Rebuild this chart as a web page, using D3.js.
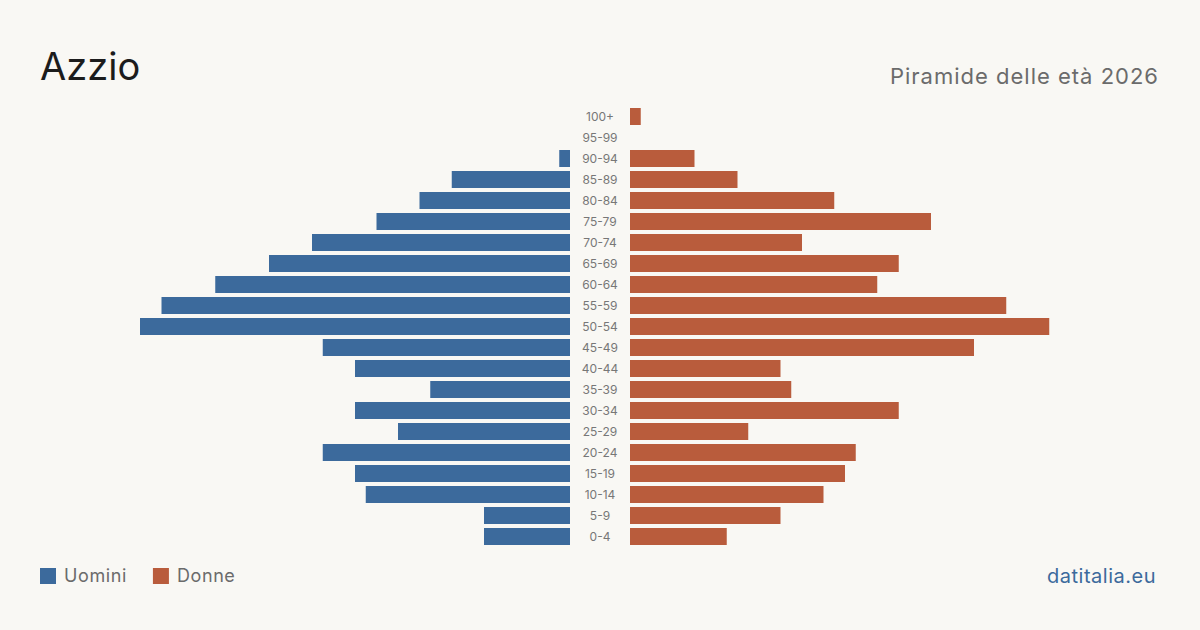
<!DOCTYPE html>
<html>
<head>
<meta charset="utf-8">
<script src="https://cdn.jsdelivr.net/npm/d3@7"></script>
<style>
  html, body { margin: 0; padding: 0; background: #f9f8f4; }
  svg { display: block; font-family: Inter, "Noto Sans", sans-serif; }
</style>
</head>
<body>
<svg id="chart" width="1200" height="630"></svg>
<script>
// Dati: piramide delle età
const ageGroups = ['100+', '95-99', '90-94', '85-89', '80-84', '75-79', '70-74', '65-69', '60-64', '55-59',
  '50-54', '45-49', '40-44', '35-39', '30-34', '25-29', '20-24', '15-19', '10-14', '5-9', '0-4'];
const men = [0, 0, 1, 11, 14, 18, 24, 28, 33, 38, 40, 23, 20, 13, 20, 16, 23, 20, 19, 8, 8];
const women = [1, 0, 6, 10, 19, 28, 16, 25, 23, 35, 39, 32, 14, 15, 25, 11, 21, 20, 18, 14, 9];

const legendItems = [
  { label: 'Uomini', color: '#3c6a9c' },
  { label: 'Donne', color: '#b95c3c' }
];

const svg = d3.select('#chart');

svg.append('rect').attr('width', 1200).attr('height', 630).attr('fill', '#f9f8f4');

// Titoli
svg.append('text')
  .attr('x', 40).attr('y', 80)
  .style('font-size', '38px')
  .style('fill', '#1c1c1c')
  .text('Azzio');

svg.append('text')
  .attr('x', 1159).attr('y', 84)
  .attr('text-anchor', 'end')
  .style('font-size', '22px')
  .style('letter-spacing', '1px')
  .style('fill', '#6b6b6b')
  .text('Piramide delle età 2026');

// Scale
const maxVal = 40;
const y = d3.scaleBand()
  .domain(ageGroups)
  .range([106, 547])
  .paddingInner(4 / 21)
  .paddingOuter(2 / 21);

const xLeft = d3.scaleLinear().domain([0, maxVal]).range([570, 140]);
const xRight = d3.scaleLinear().domain([0, maxVal]).range([630, 1060]);

// Barre uomini
svg.append('g').selectAll('rect')
  .data(ageGroups.map((g, i) => ({ g, v: men[i] })))
  .enter()
  .append('rect')
  .attr('x', d => xLeft(d.v))
  .attr('y', d => y(d.g))
  .attr('width', d => xLeft(0) - xLeft(d.v))
  .attr('height', y.bandwidth())
  .attr('fill', legendItems[0].color);

// Barre donne
svg.append('g').selectAll('rect')
  .data(ageGroups.map((g, i) => ({ g, v: women[i] })))
  .enter()
  .append('rect')
  .attr('x', xRight(0))
  .attr('y', d => y(d.g))
  .attr('width', d => xRight(d.v) - xRight(0))
  .attr('height', y.bandwidth())
  .attr('fill', legendItems[1].color);

// Etichette età
svg.append('g').selectAll('text')
  .data(ageGroups)
  .enter()
  .append('text')
  .attr('x', 600)
  .attr('y', d => y(d) + y.bandwidth() / 2)
  .attr('dy', '0.36em')
  .attr('text-anchor', 'middle')
  .style('font-size', '12px')
  .style('fill', '#777')
  .text(d => d);

// Legenda
const legend = svg.append('g').attr('transform', 'translate(40,568)');
let lx = 0;
legendItems.forEach(item => {
  const g = legend.append('g').attr('transform', `translate(${lx},0)`);
  g.append('rect').attr('width', 16).attr('height', 16).attr('fill', item.color);
  const t = g.append('text')
    .attr('x', 24).attr('y', 8)
    .attr('dy', '0.36em')
    .style('font-size', '18px')
    .style('letter-spacing', '0.6px')
    .style('fill', '#6b6b6b')
    .text(item.label);
  lx += 24 + t.node().getComputedTextLength() + 26;
});

svg.append('text')
  .attr('x', 1156).attr('y', 583)
  .attr('text-anchor', 'end')
  .style('font-size', '20px')
  .style('letter-spacing', '0.5px')
  .style('fill', '#3c6a9c')
  .text('datitalia.eu');
</script>
</body>
</html>
